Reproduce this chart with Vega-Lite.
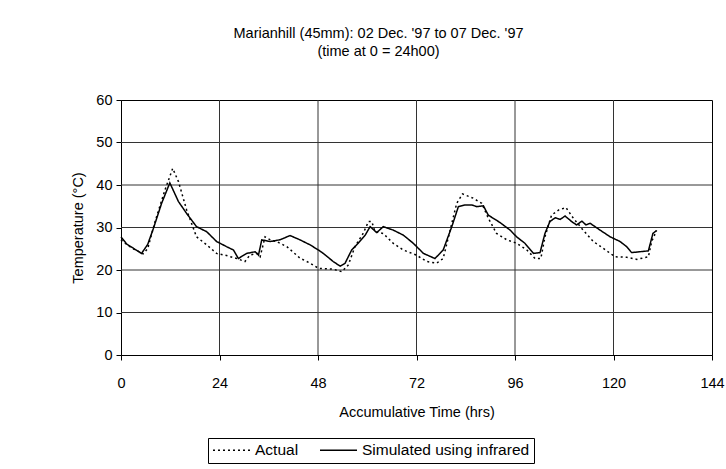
{
  "$schema": "https://vega.github.io/schema/vega-lite/v6.json",
  "autosize": {"type": "none"},
  "width": 591,
  "height": 255,
  "padding": {"left": 121, "top": 100, "right": 14, "bottom": 114},
  "background": "white",
  "config": {
    "font": "Liberation Sans",
    "view": {"stroke": "black", "strokeWidth": 1},
    "axis": {"grid": false, "labelFont": "Liberation Sans", "titleFont": "Liberation Sans", "labelColor": "black", "titleColor": "black", "labelFontSize": 14.5, "titleFontSize": 14.5, "titleFontWeight": "normal", "domainColor": "black", "tickColor": "black", "tickSize": 5}
  },
  "title": {
    "text": ["Marianhill (45mm): 02 Dec. '97 to 07 Dec. '97", "(time at 0 = 24h00)"],
    "fontSize": 14.5,
    "fontWeight": "normal",
    "font": "Liberation Sans",
    "color": "black",
    "anchor": "middle",
    "dx": -38,
    "offset": 33,
    "lineHeight": 18
  },
  "layer": [
    {
      "data": {"values": [{"t": 24}, {"t": 48}, {"t": 72}, {"t": 96}, {"t": 120}]},
      "mark": {"type": "rule", "color": "#333333", "strokeWidth": 1},
      "encoding": {
        "x": {
          "field": "t", "type": "quantitative",
          "scale": {"domain": [0, 144], "nice": false},
          "axis": {"grid": false, "values": [0, 24, 48, 72, 96, 120, 144], "labelOverlap": false, "title": "Accumulative Time (hrs)", "labelPadding": 16, "titlePadding": 16, "labelFlush": false}
        }
      }
    },
    {
      "data": {"values": [{"temp": 10}, {"temp": 20}, {"temp": 30}, {"temp": 40}, {"temp": 50}]},
      "mark": {"type": "rule", "color": "#333333", "strokeWidth": 1},
      "encoding": {
        "y": {
          "field": "temp", "type": "quantitative",
          "scale": {"domain": [0, 60], "nice": false},
          "axis": {"grid": false, "values": [0, 10, 20, 30, 40, 50, 60], "labelOverlap": false, "title": "Temperature (°C)", "labelPadding": 4, "titlePadding": 10}
        }
      }
    },
    {
      "data": {
        "values": [
          {"series": "Actual", "t": 0, "temp": 27.1},
          {"series": "Actual", "t": 1.5, "temp": 25.9},
          {"series": "Actual", "t": 3, "temp": 25.0},
          {"series": "Actual", "t": 5.4, "temp": 23.8},
          {"series": "Actual", "t": 6.5, "temp": 25.0},
          {"series": "Actual", "t": 8.3, "temp": 31.4},
          {"series": "Actual", "t": 10.7, "temp": 38.8},
          {"series": "Actual", "t": 12.6, "temp": 43.9},
          {"series": "Actual", "t": 14.0, "temp": 40.8},
          {"series": "Actual", "t": 16.0, "temp": 34.1},
          {"series": "Actual", "t": 18.4, "temp": 27.8},
          {"series": "Actual", "t": 20.9, "temp": 25.9},
          {"series": "Actual", "t": 23.3, "temp": 23.9},
          {"series": "Actual", "t": 25.7, "temp": 23.4},
          {"series": "Actual", "t": 28.2, "temp": 22.7},
          {"series": "Actual", "t": 30.2, "temp": 22.0},
          {"series": "Actual", "t": 31.4, "temp": 23.5},
          {"series": "Actual", "t": 33.1, "temp": 23.9},
          {"series": "Actual", "t": 33.9, "temp": 23.1},
          {"series": "Actual", "t": 35.1, "temp": 27.8},
          {"series": "Actual", "t": 36.5, "temp": 27.0},
          {"series": "Actual", "t": 37.9, "temp": 26.7},
          {"series": "Actual", "t": 40.4, "temp": 25.5},
          {"series": "Actual", "t": 43.6, "temp": 22.8},
          {"series": "Actual", "t": 46.1, "temp": 21.6},
          {"series": "Actual", "t": 48.1, "temp": 20.4},
          {"series": "Actual", "t": 51.7, "temp": 20.2},
          {"series": "Actual", "t": 53.8, "temp": 19.6},
          {"series": "Actual", "t": 55.4, "temp": 21.2},
          {"series": "Actual", "t": 57.0, "temp": 25.5},
          {"series": "Actual", "t": 59.0, "temp": 28.6},
          {"series": "Actual", "t": 60.3, "temp": 31.4},
          {"series": "Actual", "t": 61.1, "temp": 31.4},
          {"series": "Actual", "t": 61.9, "temp": 29.0},
          {"series": "Actual", "t": 63.9, "temp": 28.6},
          {"series": "Actual", "t": 66.3, "temp": 26.3},
          {"series": "Actual", "t": 68.8, "temp": 24.7},
          {"series": "Actual", "t": 72.0, "temp": 23.5},
          {"series": "Actual", "t": 74.5, "temp": 22.0},
          {"series": "Actual", "t": 76.9, "temp": 21.6},
          {"series": "Actual", "t": 78.5, "temp": 22.7},
          {"series": "Actual", "t": 80.2, "temp": 29.4},
          {"series": "Actual", "t": 81.8, "temp": 35.7},
          {"series": "Actual", "t": 83.2, "temp": 37.9},
          {"series": "Actual", "t": 85.8, "temp": 36.9},
          {"series": "Actual", "t": 87.9, "temp": 35.7},
          {"series": "Actual", "t": 89.5, "temp": 32.2},
          {"series": "Actual", "t": 91.5, "temp": 28.6},
          {"series": "Actual", "t": 94.0, "temp": 27.1},
          {"series": "Actual", "t": 96.4, "temp": 26.3},
          {"series": "Actual", "t": 98.9, "temp": 24.7},
          {"series": "Actual", "t": 100.9, "temp": 22.7},
          {"series": "Actual", "t": 102.3, "temp": 22.7},
          {"series": "Actual", "t": 103.3, "temp": 27.8},
          {"series": "Actual", "t": 104.9, "temp": 32.9},
          {"series": "Actual", "t": 106.6, "temp": 34.1},
          {"series": "Actual", "t": 108.4, "temp": 34.7},
          {"series": "Actual", "t": 110.2, "temp": 32.2},
          {"series": "Actual", "t": 112.6, "temp": 29.4},
          {"series": "Actual", "t": 115.1, "temp": 26.7},
          {"series": "Actual", "t": 117.5, "temp": 25.1},
          {"series": "Actual", "t": 120.4, "temp": 23.1},
          {"series": "Actual", "t": 123.2, "temp": 23.0},
          {"series": "Actual", "t": 125.7, "temp": 22.5},
          {"series": "Actual", "t": 128.5, "temp": 23.1},
          {"series": "Actual", "t": 129.3, "temp": 26.7},
          {"series": "Actual", "t": 130.5, "temp": 29.3},
          {"series": "Simulated using infrared", "t": 0, "temp": 27.8},
          {"series": "Simulated using infrared", "t": 1.4, "temp": 26.1},
          {"series": "Simulated using infrared", "t": 5.0, "temp": 23.9},
          {"series": "Simulated using infrared", "t": 6.5, "temp": 26.0},
          {"series": "Simulated using infrared", "t": 7.9, "temp": 29.8},
          {"series": "Simulated using infrared", "t": 9.9, "temp": 35.7},
          {"series": "Simulated using infrared", "t": 11.9, "temp": 40.5},
          {"series": "Simulated using infrared", "t": 14.0, "temp": 36.1},
          {"series": "Simulated using infrared", "t": 16.0, "temp": 33.3},
          {"series": "Simulated using infrared", "t": 18.4, "temp": 30.2},
          {"series": "Simulated using infrared", "t": 20.9, "temp": 29.0},
          {"series": "Simulated using infrared", "t": 23.3, "temp": 26.7},
          {"series": "Simulated using infrared", "t": 25.7, "temp": 25.5},
          {"series": "Simulated using infrared", "t": 27.4, "temp": 24.7},
          {"series": "Simulated using infrared", "t": 28.6, "temp": 22.7},
          {"series": "Simulated using infrared", "t": 30.6, "temp": 23.9},
          {"series": "Simulated using infrared", "t": 32.7, "temp": 24.3},
          {"series": "Simulated using infrared", "t": 33.5, "temp": 23.5},
          {"series": "Simulated using infrared", "t": 34.3, "temp": 27.1},
          {"series": "Simulated using infrared", "t": 36.3, "temp": 26.7},
          {"series": "Simulated using infrared", "t": 38.7, "temp": 27.1},
          {"series": "Simulated using infrared", "t": 41.2, "temp": 28.1},
          {"series": "Simulated using infrared", "t": 43.6, "temp": 27.1},
          {"series": "Simulated using infrared", "t": 46.1, "temp": 25.9},
          {"series": "Simulated using infrared", "t": 48.1, "temp": 24.7},
          {"series": "Simulated using infrared", "t": 49.3, "temp": 23.9},
          {"series": "Simulated using infrared", "t": 51.7, "temp": 22.0},
          {"series": "Simulated using infrared", "t": 53.4, "temp": 20.9},
          {"series": "Simulated using infrared", "t": 54.6, "temp": 21.6},
          {"series": "Simulated using infrared", "t": 56.2, "temp": 24.7},
          {"series": "Simulated using infrared", "t": 57.8, "temp": 26.3},
          {"series": "Simulated using infrared", "t": 59.5, "temp": 28.2},
          {"series": "Simulated using infrared", "t": 60.7, "temp": 30.2},
          {"series": "Simulated using infrared", "t": 62.3, "temp": 28.8},
          {"series": "Simulated using infrared", "t": 63.9, "temp": 30.2},
          {"series": "Simulated using infrared", "t": 66.3, "temp": 29.4},
          {"series": "Simulated using infrared", "t": 68.8, "temp": 28.2},
          {"series": "Simulated using infrared", "t": 71.2, "temp": 26.3},
          {"series": "Simulated using infrared", "t": 73.7, "temp": 23.9},
          {"series": "Simulated using infrared", "t": 76.5, "temp": 22.7},
          {"series": "Simulated using infrared", "t": 78.5, "temp": 24.7},
          {"series": "Simulated using infrared", "t": 80.6, "temp": 30.2},
          {"series": "Simulated using infrared", "t": 82.2, "temp": 34.9},
          {"series": "Simulated using infrared", "t": 83.8, "temp": 35.3},
          {"series": "Simulated using infrared", "t": 85.5, "temp": 35.3},
          {"series": "Simulated using infrared", "t": 86.7, "temp": 34.9},
          {"series": "Simulated using infrared", "t": 88.3, "temp": 35.1},
          {"series": "Simulated using infrared", "t": 89.5, "temp": 32.9},
          {"series": "Simulated using infrared", "t": 92.3, "temp": 31.2},
          {"series": "Simulated using infrared", "t": 94.8, "temp": 29.4},
          {"series": "Simulated using infrared", "t": 96.4, "temp": 27.8},
          {"series": "Simulated using infrared", "t": 98.4, "temp": 26.3},
          {"series": "Simulated using infrared", "t": 100.5, "temp": 23.9},
          {"series": "Simulated using infrared", "t": 102.1, "temp": 24.1},
          {"series": "Simulated using infrared", "t": 103.3, "temp": 28.6},
          {"series": "Simulated using infrared", "t": 104.5, "temp": 31.4},
          {"series": "Simulated using infrared", "t": 105.8, "temp": 32.3},
          {"series": "Simulated using infrared", "t": 107.0, "temp": 31.9},
          {"series": "Simulated using infrared", "t": 108.2, "temp": 32.7},
          {"series": "Simulated using infrared", "t": 109.8, "temp": 31.4},
          {"series": "Simulated using infrared", "t": 111.0, "temp": 30.6},
          {"series": "Simulated using infrared", "t": 112.3, "temp": 31.5},
          {"series": "Simulated using infrared", "t": 113.3, "temp": 30.6},
          {"series": "Simulated using infrared", "t": 114.3, "temp": 31.0},
          {"series": "Simulated using infrared", "t": 116.7, "temp": 29.4},
          {"series": "Simulated using infrared", "t": 119.2, "temp": 27.8},
          {"series": "Simulated using infrared", "t": 121.6, "temp": 26.7},
          {"series": "Simulated using infrared", "t": 123.2, "temp": 25.5},
          {"series": "Simulated using infrared", "t": 124.4, "temp": 24.1},
          {"series": "Simulated using infrared", "t": 128.5, "temp": 24.5},
          {"series": "Simulated using infrared", "t": 129.6, "temp": 28.6},
          {"series": "Simulated using infrared", "t": 130.5, "temp": 29.3}
        ]
      },
      "mark": {"type": "line", "color": "black", "strokeWidth": 1.5},
      "encoding": {
        "x": {
          "field": "t", "type": "quantitative",
          "scale": {"domain": [0, 144], "nice": false},
          "axis": {"grid": false, "values": [0, 24, 48, 72, 96, 120, 144], "labelOverlap": false, "title": "Accumulative Time (hrs)", "labelPadding": 16, "titlePadding": 16, "labelFlush": false}
        },
        "y": {
          "field": "temp", "type": "quantitative",
          "scale": {"domain": [0, 60], "nice": false},
          "axis": {"grid": false, "values": [0, 10, 20, 30, 40, 50, 60], "labelOverlap": false, "title": "Temperature (°C)", "labelPadding": 4, "titlePadding": 10}
        },
        "strokeDash": {
          "field": "series", "type": "nominal",
          "scale": {"domain": ["Actual", "Simulated using infrared"], "range": [[2, 3], [1, 0]]},
          "legend": {
            "title": null, "orient": "none", "legendX": 87, "legendY": 338, "direction": "horizontal",
            "symbolType": "stroke", "symbolSize": 1369, "clipHeight": 16, "symbolStrokeColor": "black", "symbolStrokeWidth": 1.5,
            "labelFontSize": 15.5, "labelLimit": 400, "labelColor": "black", "labelFont": "Liberation Sans", "columnPadding": 20,
            "strokeColor": "black", "padding": 4, "fillColor": "white"
          }
        }
      }
    }
  ]
}
